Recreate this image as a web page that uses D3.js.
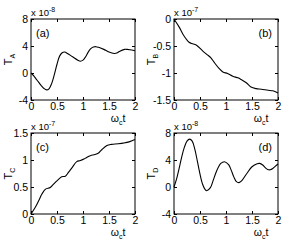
<!DOCTYPE html>
<html>
	<head>
		<title>T panels</title>
	</head>
	<body>
	</body>
</html>
<script src="https://d3js.org/d3.v7.min.js"></script>
<style>
html,body{
	margin:0;
	padding:0;
	background:#fff;
}
svg{
	display:block;
	font-family:"Liberation Sans",Arial,sans-serif;
}
</style>
<script>
	// values (y in units of the exponent shown above each panel)
	var timeA=[0,0.05,0.1,0.15,0.2,0.25,0.3,0.35,0.4,0.45,0.5,0.55,0.6,0.65,0.7,0.8,0.9,0.95,1.0,1.05,1.1,1.15,1.2,1.25,1.3,1.4,1.5,1.6,1.65,1.7,1.8,1.85,1.9,2.0];
	var valA=[0,-0.4,-0.9,-1.4,-1.9,-2.3,-2.5,-2.3,-1.5,-0.2,1.3,2.5,3.0,3.1,2.9,2.4,1.9,1.75,1.9,2.4,3.1,3.6,3.85,3.9,3.8,3.5,3.1,2.9,2.95,3.2,3.5,3.5,3.45,3.3];

	var timeB=[0,0.1,0.19,0.29,0.36,0.44,0.55,0.65,0.71,0.77,0.87,0.94,1.03,1.13,1.23,1.29,1.39,1.48,1.58,1.68,1.81,1.9,2.0];
	var valB=[0,-0.15,-0.31,-0.43,-0.46,-0.49,-0.59,-0.67,-0.72,-0.8,-0.92,-0.98,-1.01,-1.06,-1.09,-1.12,-1.18,-1.26,-1.29,-1.3,-1.32,-1.33,-1.37];

	var timeC=[0,0.08,0.15,0.21,0.28,0.37,0.43,0.53,0.59,0.66,0.72,0.79,0.88,0.95,1.04,1.14,1.23,1.3,1.36,1.46,1.55,1.68,1.81,1.9,2.0];
	var valC=[0,0.12,0.25,0.37,0.46,0.49,0.55,0.64,0.69,0.7,0.77,0.86,0.97,0.99,1.03,1.08,1.1,1.13,1.19,1.27,1.29,1.3,1.32,1.34,1.38];

	var timeD=[0,0.05,0.1,0.15,0.2,0.25,0.3,0.35,0.4,0.45,0.5,0.55,0.6,0.63,0.7,0.75,0.8,0.85,0.9,0.97,1.05,1.1,1.15,1.2,1.25,1.3,1.4,1.5,1.6,1.65,1.7,1.75,1.8,1.85,1.9,1.95,2.0];
	var valD=[0,1.2,2.8,4.5,5.9,6.8,7.1,6.8,5.6,3.8,1.9,0.4,-0.4,-0.55,-0.1,0.9,2.0,2.9,3.5,3.75,3.3,2.5,1.5,0.8,0.65,0.9,2.0,3.0,3.45,3.5,3.3,2.9,2.6,2.55,2.75,3.1,3.4];

	var xTicks=[0,0.5,1,1.5,2];
	var ticksA=[-4,0,4,8];
	var ticksB=[-1.5,-1,-0.5,0];
	var ticksC=[0,0.5,1,1.5];
	var ticksD=[-4,0,4,8];

	var W=104,H=81;

	var panels=[
		{left:31,top:19,t:timeA,v:valA,dom:[-4,8],ticks:ticksA,exp:"-8",sub:"A",tag:"(a)",tagRight:false},
		{left:174,top:19,t:timeB,v:valB,dom:[-1.5,0],ticks:ticksB,exp:"-7",sub:"B",tag:"(b)",tagRight:true},
		{left:31,top:133,t:timeC,v:valC,dom:[0,1.5],ticks:ticksC,exp:"-7",sub:"C",tag:"(c)",tagRight:false},
		{left:174,top:133,t:timeD,v:valD,dom:[-4,8],ticks:ticksD,exp:"-8",sub:"D",tag:"(d)",tagRight:true}
	];

	var svg=d3.select("body")
	.append("svg")
	.attr("width",283)
	.attr("height",242);

	panels.forEach(function(p){
		var g=svg.append("g")
		.attr("transform","translate("+p.left+","+p.top+")");

		var x=d3.scaleLinear().domain([0,2]).range([0,W]);
		var y=d3.scaleLinear().domain(p.dom).range([H,0]);

		var fmt=function(d){return String(d);};

		g.append("g")
		.attr("transform","translate(0,"+H+")")
		.call(d3.axisBottom(x).tickValues(xTicks).tickSize(-3).tickPadding(3).tickFormat(fmt));
		g.append("g")
		.call(d3.axisTop(x).tickValues(xTicks).tickSize(-3).tickFormat(""));
		g.append("g")
		.call(d3.axisLeft(y).tickValues(p.ticks).tickSize(-3).tickPadding(3).tickFormat(fmt));
		g.append("g")
		.attr("transform","translate("+W+",0)")
		.call(d3.axisRight(y).tickValues(p.ticks).tickSize(-3).tickFormat(""));

		g.selectAll(".domain").remove();
		g.selectAll(".tick line").attr("stroke","#000");
		g.selectAll(".tick text")
		.attr("font-family","Liberation Sans, Arial, sans-serif")
		.attr("font-size",10.5)
		.attr("fill","#000");

		g.append("rect")
		.attr("width",W)
		.attr("height",H)
		.attr("fill","none")
		.attr("stroke","#000")
		.attr("stroke-width",1);

		var line=d3.line()
		.x(function(d,i){return x(p.t[i]);})
		.y(function(d){return y(d);})
		.curve(d3.curveCatmullRom);

		g.append("path")
		.datum(p.v)
		.attr("d",line)
		.attr("fill","none")
		.attr("stroke","#000")
		.attr("stroke-width",1.1);

		// exponent above the frame
		var ex=g.append("text")
		.attr("x",0)
		.attr("y",-3)
		.attr("font-size",9.5)
		.text("x 10");
		ex.append("tspan")
		.attr("font-size",7)
		.attr("dy",-4)
		.text(p.exp);

		// panel tag
		g.append("text")
		.attr("x",p.tagRight?W-6:5)
		.attr("y",18)
		.attr("text-anchor",p.tagRight?"end":"start")
		.attr("font-size",11)
		.text(p.tag);

		// y label
		var yl=g.append("text")
		.attr("transform","translate(-19,"+(H/2)+") rotate(-90)")
		.attr("text-anchor","middle")
		.attr("font-size",11)
		.text("T");
		yl.append("tspan")
		.attr("font-size",7)
		.attr("dy",3)
		.text(p.sub);

		// x label, sits below the tick labels
		var xl=g.append("text")
		.attr("x",W-17)
		.attr("y",H+22)
		.attr("text-anchor","middle")
		.attr("font-size",10.5)
		.text("\u03c9");
		xl.append("tspan")
		.attr("font-size",7)
		.attr("dy",2.5)
		.text("c");
		xl.append("tspan")
		.attr("dy",-2.5)
		.text("t");
	});
</script>
